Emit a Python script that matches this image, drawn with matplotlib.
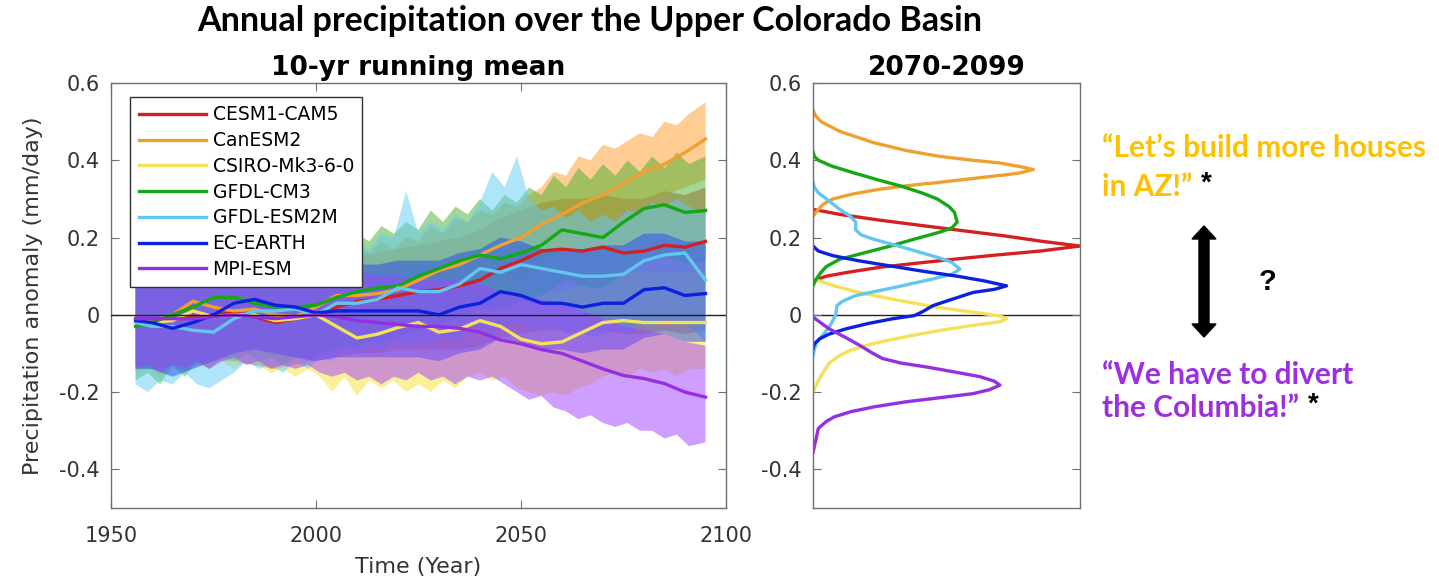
import matplotlib
matplotlib.use("Agg")
import matplotlib.pyplot as plt
from matplotlib.patches import FancyArrow

plt.rcParams['font.family'] = ['DejaVu Sans']

# model names and colours
models = ['CESM1-CAM5', 'CanESM2', 'CSIRO-Mk3-6-0', 'GFDL-CM3', 'GFDL-ESM2M', 'EC-EARTH', 'MPI-ESM']
line_colors = ['#d42020', '#f0a030', '#f4e15a', '#14a814', '#62c6ee', '#0a22dc', '#9530e0']
fill_colors = ['#e03030', '#ff9a28', '#f8e030', '#48b030', '#60ccf5', '#2848f0', '#a040ff']

years = [1956, 1960, 1965, 1970, 1975, 1980, 1985, 1990, 1995, 2000, 2005, 2010, 2015, 2020,
         2025, 2030, 2035, 2040, 2045, 2050, 2055, 2060, 2065, 2070, 2075, 2080, 2085, 2090, 2095]
# finer spacing for the jagged outer edges of the spread
years_fine = [1956, 1959, 1962, 1965, 1968, 1971, 1974, 1977, 1980, 1983,
              1986, 1989, 1992, 1995, 1998, 2001, 2004, 2007, 2010, 2013,
              2016, 2019, 2022, 2025, 2028, 2031, 2034, 2037, 2040, 2043,
              2046, 2049, 2052, 2055, 2058, 2061, 2064, 2067, 2070, 2073,
              2076, 2079, 2082, 2085, 2088, 2091, 2095]

# 10-yr running mean (mm/day)
cesm_mean = [-0.01, -0.02, -0.01, -0.005, 0.0, 0.005, -0.005, -0.02, -0.01, 0.0, 0.02, 0.035, 0.04, 0.05,
             0.06, 0.065, 0.075, 0.09, 0.12, 0.14, 0.165, 0.17, 0.165, 0.175, 0.16, 0.165, 0.18, 0.175, 0.19]
canesm_mean = [-0.01, -0.015, 0.0, 0.035, 0.02, 0.01, 0.015, 0.0, -0.005, 0.02, 0.05, 0.05, 0.055, 0.065,
               0.09, 0.115, 0.13, 0.155, 0.18, 0.2, 0.235, 0.26, 0.29, 0.31, 0.34, 0.37, 0.39, 0.42, 0.455]
csiro_mean = [-0.02, -0.02, -0.015, 0.01, -0.005, 0.0, 0.0, -0.015, -0.01, 0.0, -0.03, -0.06, -0.05, -0.033,
              -0.02, -0.045, -0.037, -0.015, -0.03, -0.063, -0.075, -0.07, -0.045, -0.02, -0.015, -0.02, -0.02,
              -0.02, -0.02]
gfdlcm3_mean = [-0.03, -0.02, 0.0, 0.02, 0.045, 0.045, 0.03, 0.02, 0.02, 0.025, 0.045, 0.06, 0.07, 0.075,
                0.1, 0.12, 0.14, 0.155, 0.145, 0.16, 0.18, 0.22, 0.21, 0.2, 0.24, 0.275, 0.285, 0.265, 0.27]
gfdlesm_mean = [-0.02, -0.03, -0.03, -0.04, -0.045, -0.01, 0.01, 0.01, 0.015, 0.0, 0.03, 0.03, 0.04, 0.07,
                0.06, 0.06, 0.08, 0.12, 0.11, 0.13, 0.12, 0.11, 0.1, 0.1, 0.105, 0.14, 0.155, 0.16, 0.09]
ecearth_mean = [-0.015, -0.02, -0.035, -0.02, 0.0, 0.03, 0.04, 0.025, 0.02, 0.005, 0.01, 0.01, 0.01, 0.01,
                0.01, 0.0, 0.02, 0.03, 0.06, 0.05, 0.03, 0.03, 0.02, 0.03, 0.03, 0.065, 0.07, 0.05, 0.055]
mpi_mean = [-0.01, -0.01, -0.01, -0.01, -0.005, 0.0, -0.005, -0.01, -0.005, 0.0, -0.005, -0.015, -0.02, -0.025,
            -0.03, -0.03, -0.035, -0.045, -0.065, -0.075, -0.09, -0.1, -0.12, -0.14, -0.157, -0.165, -0.178,
            -0.2, -0.213]

# ensemble spread, upper and lower edges
cesm_hi = [0.11, 0.1, 0.11, 0.12, 0.12, 0.12, 0.11, 0.1, 0.11, 0.12, 0.14, 0.15, 0.16, 0.17,
           0.18, 0.19, 0.2, 0.22, 0.25, 0.27, 0.29, 0.3, 0.3, 0.31, 0.3, 0.3, 0.32, 0.31, 0.33]
cesm_lo = [-0.13, -0.14, -0.13, -0.13, -0.12, -0.12, -0.13, -0.14, -0.13, -0.12, -0.11, -0.1, -0.1, -0.09,
           -0.09, -0.09, -0.09, -0.08, -0.06, -0.05, -0.04, -0.04, -0.05, -0.04, -0.05, -0.05, -0.04, -0.05, -0.04]
canesm_hi = [0.12, 0.10, 0.14, 0.12, 0.16, 0.14, 0.15, 0.12, 0.14, 0.12,
             0.13, 0.11, 0.14, 0.12, 0.15, 0.14, 0.17, 0.15, 0.18, 0.16,
             0.19, 0.17, 0.20, 0.19, 0.23, 0.21, 0.25, 0.24, 0.27, 0.26,
             0.29, 0.28, 0.31, 0.33, 0.37, 0.36, 0.41, 0.40, 0.44, 0.43,
             0.45, 0.47, 0.46, 0.50, 0.49, 0.52, 0.55]
canesm_lo = [-0.13, -0.14, -0.12, -0.09, -0.1, -0.11, -0.1, -0.12, -0.12, -0.1, -0.07, -0.07, -0.06, -0.05,
             -0.03, -0.01, 0.01, 0.03, 0.06, 0.09, 0.13, 0.17, 0.21, 0.24, 0.27, 0.29, 0.31, 0.33, 0.35]
csiro_hi = [0.11, 0.11, 0.12, 0.14, 0.12, 0.13, 0.13, 0.11, 0.12, 0.13, 0.1, 0.08, 0.08, 0.09,
            0.1, 0.09, 0.09, 0.12, 0.1, 0.07, 0.06, 0.06, 0.08, 0.1, 0.11, 0.11, 0.11, 0.11, 0.11]
csiro_lo = [-0.15, -0.14, -0.16, -0.14, -0.15, -0.13, -0.14, -0.12, -0.14, -0.12,
            -0.13, -0.15, -0.14, -0.16, -0.14, -0.16, -0.20, -0.16, -0.21, -0.17,
            -0.19, -0.17, -0.20, -0.18, -0.20, -0.17, -0.19, -0.16, -0.15, -0.17,
            -0.16, -0.19, -0.20, -0.21, -0.20, -0.21, -0.19, -0.18, -0.16, -0.15,
            -0.16, -0.14, -0.15, -0.14, -0.16, -0.14, -0.14]
gfdlcm3_hi = [0.10, 0.12, 0.11, 0.14, 0.13, 0.16, 0.15, 0.17, 0.15, 0.17,
              0.14, 0.16, 0.15, 0.17, 0.16, 0.18, 0.19, 0.18, 0.21, 0.19,
              0.23, 0.21, 0.24, 0.22, 0.27, 0.24, 0.28, 0.26, 0.30, 0.27,
              0.31, 0.29, 0.33, 0.31, 0.36, 0.33, 0.38, 0.35, 0.39, 0.36,
              0.40, 0.37, 0.41, 0.38, 0.42, 0.39, 0.41]
gfdlcm3_lo = [-0.17, -0.15, -0.18, -0.13, -0.16, -0.12, -0.14, -0.11, -0.12, -0.10,
              -0.12, -0.11, -0.13, -0.11, -0.12, -0.10, -0.09, -0.08, -0.08, -0.07,
              -0.07, -0.06, -0.05, -0.04, -0.03, -0.02, -0.01, 0.00, 0.02, 0.01,
              0.02, 0.03, 0.04, 0.05, 0.07, 0.09, 0.08, 0.07, 0.07, 0.09,
              0.11, 0.13, 0.14, 0.15, 0.14, 0.13, 0.14]
gfdlesm_hi = [0.12, 0.10, 0.12, 0.10, 0.11, 0.09, 0.11, 0.10, 0.13, 0.12,
              0.15, 0.13, 0.15, 0.14, 0.16, 0.14, 0.17, 0.16, 0.19, 0.17,
              0.21, 0.20, 0.32, 0.21, 0.24, 0.22, 0.26, 0.24, 0.29, 0.37,
              0.33, 0.41, 0.30, 0.27, 0.28, 0.25, 0.27, 0.24, 0.26, 0.24,
              0.27, 0.26, 0.29, 0.28, 0.30, 0.28, 0.26]
gfdlesm_lo = [-0.18, -0.20, -0.17, -0.18, -0.15, -0.18, -0.19, -0.17, -0.15, -0.12,
              -0.14, -0.13, -0.15, -0.12, -0.14, -0.11, -0.12, -0.09, -0.10, -0.08,
              -0.09, -0.07, -0.08, -0.07, -0.08, -0.06, -0.07, -0.04, -0.03, -0.05,
              -0.03, -0.02, -0.03, -0.04, -0.03, -0.05, -0.04, -0.06, -0.05, -0.04,
              -0.05, -0.02, -0.03, -0.01, -0.02, -0.03, -0.07]
ecearth_hi = [0.1, 0.1, 0.09, 0.1, 0.12, 0.15, 0.16, 0.15, 0.14, 0.13, 0.13, 0.13, 0.13, 0.14,
              0.14, 0.14, 0.16, 0.17, 0.2, 0.19, 0.17, 0.17, 0.17, 0.18, 0.18, 0.21, 0.21, 0.19, 0.19]
ecearth_lo = [-0.14, -0.14, -0.16, -0.14, -0.12, -0.1, -0.09, -0.1, -0.11, -0.12, -0.11, -0.11, -0.11, -0.11,
              -0.11, -0.12, -0.1, -0.09, -0.06, -0.07, -0.09, -0.09, -0.1, -0.09, -0.09, -0.06, -0.05, -0.07, -0.07]
mpi_hi = [0.12, 0.12, 0.12, 0.12, 0.13, 0.13, 0.12, 0.12, 0.12, 0.13, 0.12, 0.11, 0.1, 0.1,
          0.09, 0.09, 0.09, 0.08, 0.06, 0.05, 0.04, 0.03, 0.01, -0.01, -0.03, -0.04, -0.05, -0.07, -0.08]
mpi_lo = [-0.14, -0.13, -0.15, -0.13, -0.14, -0.12, -0.14, -0.12, -0.11, -0.13,
          -0.12, -0.14, -0.13, -0.14, -0.13, -0.15, -0.16, -0.15, -0.17, -0.16,
          -0.18, -0.16, -0.17, -0.15, -0.17, -0.16, -0.18, -0.16, -0.17, -0.16,
          -0.18, -0.20, -0.22, -0.21, -0.24, -0.25, -0.27, -0.26, -0.28, -0.29,
          -0.28, -0.30, -0.30, -0.32, -0.31, -0.34, -0.33]

means = [cesm_mean, canesm_mean, csiro_mean, gfdlcm3_mean, gfdlesm_mean, ecearth_mean, mpi_mean]
# (years of upper edge, upper edge, years of lower edge, lower edge)
bands = [(years, cesm_hi, years, cesm_lo),
         (years_fine, canesm_hi, years, canesm_lo),
         (years, csiro_hi, years_fine, csiro_lo),
         (years_fine, gfdlcm3_hi, years_fine, gfdlcm3_lo),
         (years_fine, gfdlesm_hi, years_fine, gfdlesm_lo),
         (years, ecearth_hi, years, ecearth_lo),
         (years, mpi_hi, years_fine, mpi_lo)]

# 2070-2099 distributions: relative density (x) against anomaly (y)
cesm_pdf_x = [0.0, 0.1, 0.25, 0.42, 0.57, 0.72, 0.86, 1.0, 0.85, 0.69, 0.53, 0.38, 0.25, 0.13, 0.05, 0.0]
cesm_pdf_y = [0.273, 0.26, 0.245, 0.23, 0.217, 0.204, 0.19, 0.178, 0.165, 0.155, 0.144, 0.133, 0.123, 0.11,
              0.1, 0.088]
canesm_pdf_x = [0.0, 0.01, 0.03, 0.1, 0.225, 0.35, 0.475, 0.6, 0.7, 0.78, 0.825, 0.78, 0.73, 0.6, 0.475,
                0.35, 0.25, 0.15, 0.075, 0.04, 0.02, 0.0]
canesm_pdf_y = [0.53, 0.515, 0.5, 0.475, 0.446, 0.425, 0.41, 0.4, 0.393, 0.383, 0.376, 0.368, 0.363, 0.353,
                0.343, 0.334, 0.325, 0.313, 0.3, 0.287, 0.273, 0.255]
csiro_pdf_x = [0.0, 0.08, 0.16, 0.3, 0.46, 0.62, 0.7, 0.725, 0.7, 0.6, 0.48, 0.375, 0.28, 0.2, 0.14, 0.1,
               0.06, 0.04, 0.02, 0.0]
csiro_pdf_y = [0.093, 0.075, 0.06, 0.04, 0.02, 0.005, -0.003, -0.01, -0.018, -0.027, -0.04, -0.053, -0.066,
               -0.079, -0.092, -0.105, -0.125, -0.147, -0.17, -0.2]
gfdlcm3_pdf_x = [0.0, 0.005, 0.02, 0.07, 0.15, 0.24, 0.33, 0.41, 0.465, 0.51, 0.53, 0.54, 0.52, 0.475, 0.38,
                 0.29, 0.19, 0.1, 0.05, 0.03, 0.01, 0.0]
gfdlcm3_pdf_y = [0.423, 0.41, 0.4, 0.385, 0.368, 0.35, 0.333, 0.315, 0.3, 0.28, 0.265, 0.24, 0.225, 0.214,
                 0.196, 0.178, 0.16, 0.144, 0.125, 0.11, 0.09, 0.075]
gfdlesm_pdf_x = [0.0, 0.005, 0.02, 0.06, 0.1, 0.14, 0.16, 0.16, 0.18, 0.225, 0.31, 0.4, 0.47, 0.52, 0.55,
                 0.52, 0.45, 0.3, 0.16, 0.11, 0.09, 0.085, 0.065, 0.04, 0.015, 0.005, 0.0]
gfdlesm_pdf_y = [0.343, 0.33, 0.316, 0.295, 0.273, 0.255, 0.24, 0.22, 0.207, 0.196, 0.18, 0.162, 0.148,
                 0.136, 0.118, 0.105, 0.093, 0.07, 0.05, 0.035, 0.024, 0.0, -0.027, -0.05, -0.07, -0.09, -0.107]
ecearth_pdf_x = [0.0, 0.02, 0.075, 0.17, 0.285, 0.41, 0.54, 0.64, 0.725, 0.68, 0.6, 0.52, 0.45, 0.41, 0.38,
                 0.3, 0.21, 0.125, 0.06, 0.025, 0.005, 0.0]
ecearth_pdf_y = [0.178, 0.165, 0.153, 0.14, 0.127, 0.113, 0.1, 0.088, 0.075, 0.066, 0.058, 0.04, 0.024,
                 0.008, -0.002, -0.01, -0.022, -0.036, -0.05, -0.062, -0.075, -0.088]
mpi_pdf_x = [0.0, 0.06, 0.12, 0.175, 0.22, 0.26, 0.33, 0.425, 0.53, 0.625, 0.68, 0.7, 0.66, 0.6, 0.47, 0.35,
             0.23, 0.14, 0.08, 0.05, 0.02, 0.012, 0.005, 0.0]
mpi_pdf_y = [-0.006, -0.036, -0.058, -0.079, -0.098, -0.113, -0.125, -0.135, -0.148, -0.16, -0.172, -0.182,
             -0.194, -0.204, -0.215, -0.225, -0.238, -0.251, -0.264, -0.276, -0.294, -0.32, -0.34, -0.358]

pdf_xs = [cesm_pdf_x, canesm_pdf_x, csiro_pdf_x, gfdlcm3_pdf_x, gfdlesm_pdf_x, ecearth_pdf_x, mpi_pdf_x]
pdf_ys = [cesm_pdf_y, canesm_pdf_y, csiro_pdf_y, gfdlcm3_pdf_y, gfdlesm_pdf_y, ecearth_pdf_y, mpi_pdf_y]

yticks = [-0.4, -0.2, 0, 0.2, 0.4, 0.6]
yticklabels = ['-0.4', '-0.2', '0', '0.2', '0.4', '0.6']

W, H = 1439, 584
fig = plt.figure(figsize=(W / 100, H / 100), dpi=100)
ax = fig.add_axes([111 / W, 1 - 508 / H, 615 / W, 425 / H])
ax2 = fig.add_axes([813 / W, 1 - 508 / H, 267 / W, 425 / H])

tick_color = '#333333'
spine_color = '#707070'

for fc, (hx, hi, lx, lo) in zip(fill_colors, bands):
    ax.fill(list(hx) + list(lx)[::-1], list(hi) + list(lo)[::-1], color=fc, alpha=0.5, linewidth=0)
for name, lc, m in zip(models, line_colors, means):
    ax.plot(years, m, color=lc, lw=2.4, label=name)
ax.axhline(0, color='#202020', lw=1.0, zorder=5)

ax.set_xlim(1950, 2100)
ax.set_ylim(-0.5, 0.6)
ax.set_xticks([1950, 2000, 2050, 2100])
ax.set_xlabel('Time (Year)', fontsize=16, color=tick_color, labelpad=8)
ax.set_ylabel('Precipitation anomaly (mm/day)', fontsize=16, color=tick_color, labelpad=12)
ax.set_title('10-yr running mean', fontsize=19, fontweight='bold', pad=6)

leg = ax.legend(loc='upper left', bbox_to_anchor=(0.031, 0.967), borderaxespad=0, fancybox=False,
                framealpha=1, edgecolor='#303030', fontsize=13.5, handlelength=3.6, handletextpad=0.35,
                labelspacing=0.36, borderpad=0.45)
leg.get_frame().set_linewidth(1.0)

for pdx, pdy, lc in zip(pdf_xs, pdf_ys, line_colors):
    ax2.plot(pdx, pdy, color=lc, lw=2.4, solid_capstyle='round', solid_joinstyle='round')
ax2.axhline(0, color='#202020', lw=1.0, zorder=0)
ax2.set_xlim(0, 1.0)
ax2.set_ylim(-0.5, 0.6)
ax2.set_xticks([])
ax2.set_title('2070-2099', fontsize=19, fontweight='bold', pad=6)

for a in (ax, ax2):
    a.set_yticks(yticks)
    a.set_yticklabels(yticklabels)
    a.tick_params(direction='in', length=6, width=0.8, colors=spine_color, labelcolor=tick_color,
                  labelsize=15, top=True, right=True, pad=8)
    for s in a.spines.values():
        s.set_color(spine_color)
        s.set_linewidth(1.0)
ax.tick_params(axis='x', pad=13)
ax2.tick_params(axis='x', top=False, bottom=False)

fig.text(590 / W, 1 - 21 / H, 'Annual precipitation over the Upper Colorado Basin', ha='center', va='center',
         fontsize=24.5, fontweight='bold', family='Lato')

# side annotations, drawn in pixel space
over = fig.add_axes([0, 0, 1, 1])
over.set_xlim(0, W)
over.set_ylim(H, 0)
over.axis('off')
gold = '#ffc000'
violet = '#9b30e0'
quote_kw = dict(fontsize=21.5, fontweight='bold', family='Lato', va='center')
over.text(1102, 148, '\u201cLet\u2019s build more houses', color=gold, **quote_kw)
t1 = over.text(1102, 187, 'in AZ!\u201d', color=gold, **quote_kw)
over.text(1102, 375, '\u201cWe have to divert', color=violet, **quote_kw)
t2 = over.text(1102, 408, 'the Columbia!\u201d', color=violet, **quote_kw)

fig.canvas.draw()
renderer = fig.canvas.get_renderer()
for t in (t1, t2):
    bb = t.get_window_extent(renderer)
    over.text(bb.x1 + 9, t.get_position()[1] - 3, '*', color='black', fontsize=20, fontweight='bold',
              family='Liberation Sans', va='center')

over.text(1268, 282, '?', color='black', fontsize=21, fontweight='bold', family='Liberation Sans',
          ha='center', va='center')
over.add_patch(FancyArrow(1204, 282, 0, -56, width=10, head_width=24, head_length=13,
                          length_includes_head=True, color='black'))
over.add_patch(FancyArrow(1204, 282, 0, 55, width=10, head_width=24, head_length=13,
                          length_includes_head=True, color='black'))

fig.savefig('out.png', dpi=100)
